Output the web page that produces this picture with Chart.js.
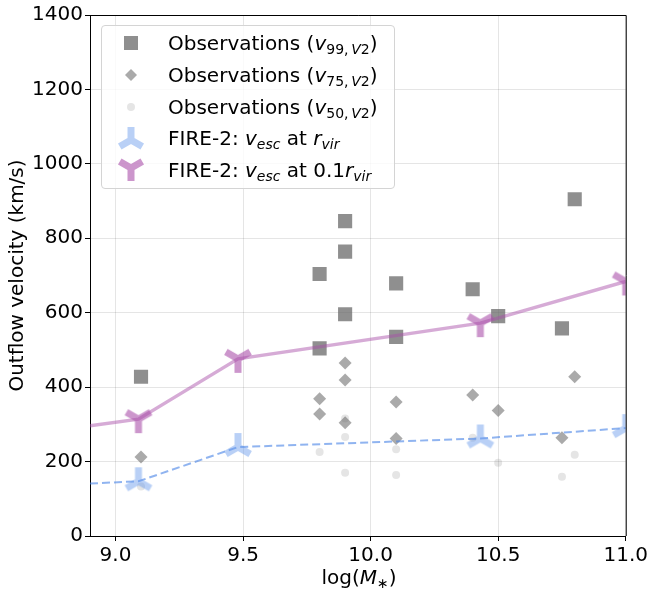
<!DOCTYPE html>
<html lang="en">
  <head>
    <meta charset="UTF-8" />
    <title>Outflow velocity vs stellar mass</title>
    <script src="https://cdn.jsdelivr.net/npm/chart.js"></script>
    <style>
      body {
        margin: 0;
        background: #fff;
        font-family: "DejaVu Sans", sans-serif;
      }
      .wrap {
        position: relative;
        width: 651px;
        height: 589px;
      }
      .legend {
        position: absolute;
        left: 101px;
        top: 25px;
        width: 292px;
        height: 162px;
        border: 1px solid #d4d4d4;
        border-radius: 4px;
        background: rgba(255, 255, 255, 0.8);
      }
      .row {
        position: absolute;
        left: 0;
        width: 292px;
        height: 32px;
        line-height: 32px;
        font-size: 20px;
        color: #000;
        white-space: nowrap;
      }
      .row canvas {
        position: absolute;
        left: 9px;
        top: 0;
      }
      .row span {
        position: absolute;
        left: 66px;
        top: 0;
      }
      .xtitle {
        position: absolute;
        left: 259px;
        top: 564px;
        width: 200px;
        height: 26px;
        line-height: 26px;
        text-align: center;
        font-size: 20px;
        color: #000;
      }
      sub {
        font-size: 0.7em;
        vertical-align: -0.3em;
        line-height: 0;
      }
    </style>
  </head>
  <body>
    <div class="wrap">
      <canvas id="chart" width="651" height="589"></canvas>
      <div class="legend">
        <div class="row" style="top: 1px"><canvas id="lg0" width="40" height="32"></canvas><span>Observations (<i>v</i><sub>99,&thinsp;<i>V</i>2</sub>)</span></div>
        <div class="row" style="top: 33px"><canvas id="lg1" width="40" height="32"></canvas><span>Observations (<i>v</i><sub>75,&thinsp;<i>V</i>2</sub>)</span></div>
        <div class="row" style="top: 65px"><canvas id="lg2" width="40" height="32"></canvas><span>Observations (<i>v</i><sub>50,&thinsp;<i>V</i>2</sub>)</span></div>
        <div class="row" style="top: 96px"><canvas id="lg3" width="40" height="32"></canvas><span>FIRE-2: <i>v<sub>esc</sub></i> at <i>r<sub>vir</sub></i></span></div>
        <div class="row" style="top: 128px"><canvas id="lg4" width="40" height="32"></canvas><span>FIRE-2: <i>v<sub>esc</sub></i> at 0.1<i>r<sub>vir</sub></i></span></div>
      </div>
      <div class="xtitle">log(<i>M</i><sub>&lowast;</sub>)</div>
    </div>

    <script>
      // observations: log stellar mass and outflow velocities (km/s)
      const obsMass99 = [9.1, 9.8, 9.8, 9.9, 9.9, 9.9, 10.1, 10.1, 10.4, 10.5, 10.75, 10.8];
      const obsV99 = [428, 704, 504, 846, 764, 596, 679, 535, 663, 591, 558, 905];

      const obsMass75 = [9.1, 9.8, 9.8, 9.9, 9.9, 9.9, 10.1, 10.1, 10.4, 10.5, 10.75, 10.8];
      const obsV75 = [212, 369, 328, 465, 419, 304, 360, 262, 379, 337, 264, 428];

      const obsMass50 = [9.1, 9.8, 9.9, 9.9, 9.9, 10.1, 10.1, 10.4, 10.5, 10.75, 10.8];
      const obsV50 = [133, 226, 316, 266, 170, 233, 164, 264, 197, 159, 218];

      // FIRE-2 escape velocities
      const fireMass = [9.09, 9.48, 10.43, 11.0];
      const fireVir = [147, 239, 262, 290];
      const fireInner = [314, 476, 572, 684];

      const fireLineMass = [8.9, 9.09, 9.48, 10.43, 11.0];
      const fireVirLine = [141, 147, 239, 262, 290];
      const fireInnerLine = [296, 314, 476, 572, 684];

      const xTicks = [9.0, 9.5, 10.0, 10.5, 11.0];
      const yTicks = [0, 200, 400, 600, 800, 1000, 1200, 1400];

      const purple = 'rgba(170, 80, 170, 0.6)';
      const purpleLine = 'rgba(170, 80, 170, 0.48)';
      const blue = 'rgba(100, 150, 235, 0.45)';
      const blueLine = 'rgba(70, 130, 230, 0.6)';
      const sq = 'rgba(100, 100, 100, 0.72)';
      const dia = 'rgba(100, 100, 100, 0.55)';
      const dot = 'rgba(100, 100, 100, 0.17)';

      function pts(xs, ys) {
        return xs.map((x, i) => ({ x: x, y: ys[i] }));
      }

      // matplotlib style tri markers ('1' = down, '2' = up)
      function drawTri(ctx, cx, cy, r, lw, color, down) {
        const s = down ? 1 : -1;
        ctx.save();
        ctx.strokeStyle = color;
        ctx.lineWidth = lw;
        ctx.lineCap = 'butt';
        ctx.beginPath();
        ctx.moveTo(cx, cy);
        ctx.lineTo(cx, cy + s * r);
        ctx.moveTo(cx, cy);
        ctx.lineTo(cx + 0.866 * r, cy - s * 0.5 * r);
        ctx.moveTo(cx, cy);
        ctx.lineTo(cx - 0.866 * r, cy - s * 0.5 * r);
        ctx.stroke();
        ctx.restore();
      }

      function triImage(color, down) {
        const c = document.createElement('canvas');
        c.width = 40;
        c.height = 40;
        drawTri(c.getContext('2d'), 20, 20, 14, 7, color, down);
        return c;
      }

      const frame = {
        id: 'frame',
        afterDraw(chart) {
          const { ctx, chartArea: a } = chart;
          ctx.save();
          ctx.strokeStyle = '#000';
          ctx.lineWidth = 1;
          ctx.beginPath();
          ctx.moveTo(a.left, a.top + 0.5);
          ctx.lineTo(a.right + 0.5, a.top + 0.5);
          ctx.lineTo(a.right + 0.5, a.bottom);
          ctx.stroke();
          ctx.restore();
        }
      };

      const font = { family: 'DejaVu Sans', size: 20 };

      new Chart(document.getElementById('chart'), {
        type: 'scatter',
        data: {
          datasets: [
            {
              data: pts(fireMass, fireInner),
              pointStyle: triImage(purple, true),
              pointRadius: 10,
              order: 0,
              clip: 0
            },
            {
              data: pts(fireMass, fireVir),
              pointStyle: triImage(blue, false),
              pointRadius: 10,
              order: 1,
              clip: 0
            },
            {
              data: pts(fireLineMass, fireInnerLine),
              showLine: true,
              borderColor: purpleLine,
              borderWidth: 3.5,
              pointRadius: 0,
              order: 2,
              clip: 0
            },
            {
              data: pts(fireLineMass, fireVirLine),
              showLine: true,
              borderColor: blueLine,
              borderWidth: 2,
              borderDash: [8, 4],
              pointRadius: 0,
              order: 3,
              clip: 0
            },
            {
              data: pts(obsMass99, obsV99),
              pointStyle: 'rect',
              pointRadius: 10,
              backgroundColor: sq,
              borderWidth: 0,
              order: 4,
              clip: 0
            },
            {
              data: pts(obsMass75, obsV75),
              pointStyle: 'rectRot',
              pointRadius: 6.5,
              backgroundColor: dia,
              borderWidth: 0,
              order: 5,
              clip: 0
            },
            {
              data: pts(obsMass50, obsV50),
              pointStyle: 'circle',
              pointRadius: 4,
              backgroundColor: dot,
              borderWidth: 0,
              order: 6,
              clip: 0
            }
          ]
        },
        options: {
          responsive: false,
          animation: false,
          layout: { padding: { top: 15, right: 23, left: 0, bottom: 0 } },
          plugins: {
            legend: { display: false },
            tooltip: { enabled: false }
          },
          scales: {
            x: {
              type: 'linear',
              min: 8.9,
              max: 11.0,
              afterBuildTicks: s => { s.ticks = xTicks.map(v => ({ value: v })); },
              afterFit: s => { s.height = 53; },
              ticks: {
                color: '#000',
                font: font,
                padding: 3,
                maxRotation: 0,
                callback: v => v.toFixed(1)
              },
              grid: { color: 'rgba(0,0,0,0.1)', tickColor: '#000', tickLength: 5 },
              border: { color: '#000', width: 1 },
              title: { display: false }
            },
            y: {
              type: 'linear',
              min: 0,
              max: 1400,
              afterBuildTicks: s => { s.ticks = yTicks.map(v => ({ value: v })); },
              afterFit: s => { s.width = 90; },
              ticks: { color: '#000', font: font, padding: 2, callback: v => String(v) },
              grid: { color: 'rgba(0,0,0,0.1)', tickColor: '#000', tickLength: 5 },
              border: { color: '#000', width: 1 },
              title: {
                display: true,
                text: 'Outflow velocity (km/s)',
                color: '#000',
                font: font,
                padding: { top: 6, bottom: 0 }
              }
            }
          }
        },
        plugins: [frame]
      });

      // legend marker icons
      function icon(id) {
        return document.getElementById(id).getContext('2d');
      }
      let g = icon('lg0');
      g.fillStyle = sq;
      g.fillRect(13, 9, 14, 14);
      g = icon('lg1');
      g.fillStyle = dia;
      g.beginPath();
      g.moveTo(20, 10); g.lineTo(26, 16); g.lineTo(20, 22); g.lineTo(14, 16);
      g.closePath();
      g.fill();
      g = icon('lg2');
      g.fillStyle = dot;
      g.beginPath();
      g.arc(20, 16, 4, 0, Math.PI * 2);
      g.fill();
      drawTri(icon('lg3'), 20, 18, 13, 7, blue, false);
      drawTri(icon('lg4'), 20, 14, 13, 7, purple, true);
    </script>
  </body>
</html>
